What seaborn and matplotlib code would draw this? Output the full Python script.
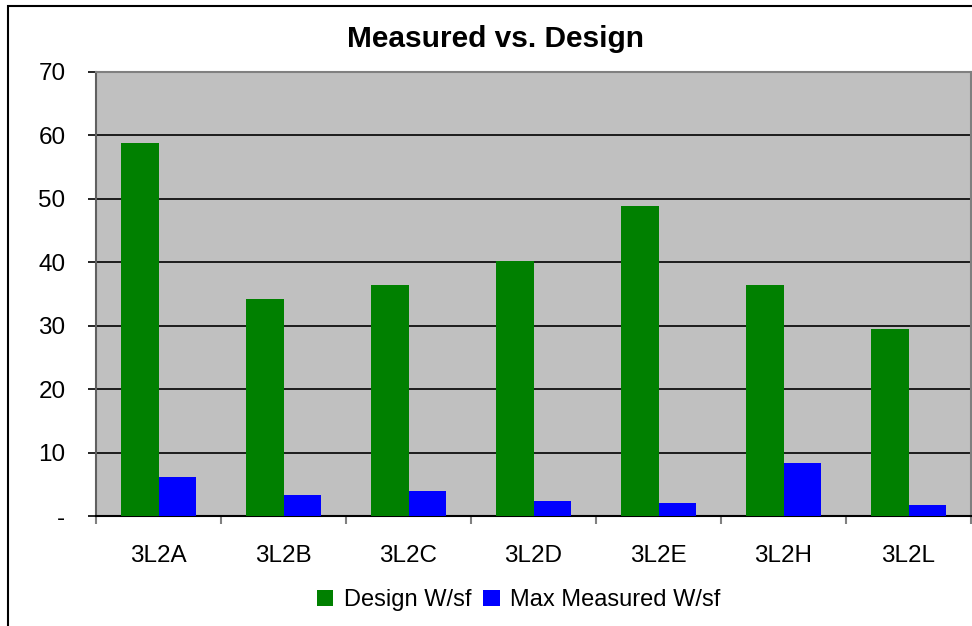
import matplotlib
matplotlib.use("Agg")
import matplotlib.pyplot as plt
import seaborn as sns
import pandas as pd
from matplotlib.patches import Rectangle
from matplotlib.ticker import FixedLocator

categories = ["3L2A", "3L2B", "3L2C", "3L2D", "3L2E", "3L2H", "3L2L"]
design = [58.8, 34.2, 36.4, 40.2, 48.8, 36.4, 29.5]
measured = [6.1, 3.3, 3.9, 2.3, 2.0, 8.3, 1.7]
series_names = ["Design W/sf", "Max Measured W/sf"]
y_ticks = [0, 10, 20, 30, 40, 50, 60, 70]
y_tick_labels = ["-", "10", "20", "30", "40", "50", "60", "70"]

df = pd.DataFrame({
    "Category": categories * 2,
    "Value": design + measured,
    "Series": [series_names[0]] * len(categories) + [series_names[1]] * len(categories),
})

sns.set_style("white")
plt.rcParams["font.family"] = ["Liberation Sans", "DejaVu Sans"]
plt.rcParams["text.color"] = "black"
plt.rcParams["xtick.color"] = "black"
plt.rcParams["ytick.color"] = "black"
plt.rcParams["axes.labelcolor"] = "black"

fig = plt.figure(figsize=(9.72, 6.26), dpi=100)
ax = fig.add_axes([96 / 972, 1 - 516 / 626, (971 - 96) / 972, (516 - 72) / 626])

sns.barplot(data=df, x="Category", y="Value", hue="Series", order=categories,
            hue_order=series_names, palette=["#008000", "#0000FF"],
            width=0.6, saturation=1, ax=ax, legend=True, zorder=3,
            linewidth=0, edgecolor="none")

ax.set_facecolor("#C0C0C0")
ax.set_xlim(-0.5, len(categories) - 0.5)
ax.set_ylim(0, 70)
ax.set_yticks(y_ticks)
ax.set_yticklabels(y_tick_labels, fontsize=17.5)
ax.yaxis.grid(True, color="black", linewidth=1.2, zorder=1)
ax.set_axisbelow(True)
ax.set_xlabel("")
ax.set_ylabel("")
ax.tick_params(axis="x", which="major", length=0, labelsize=17.5, pad=21)
ax.xaxis.set_minor_locator(FixedLocator([i - 0.5 for i in range(len(categories) + 1)]))
ax.tick_params(axis="x", which="minor", length=6, width=1.5, color="#808080", direction="out", bottom=True)
ax.tick_params(axis="y", which="major", length=6, width=1.2, color="black", direction="out", left=True, pad=16)

for side in ["top", "right"]:
    ax.spines[side].set_color("#808080")
    ax.spines[side].set_linewidth(1.5)
ax.spines["left"].set_color("#606060")
ax.spines["left"].set_linewidth(1.5)
ax.spines["bottom"].set_color("black")
ax.spines["bottom"].set_linewidth(1.5)

fig.text(495 / 972, 1 - 39 / 626, "Measured vs. Design", fontsize=21.5, fontweight="bold",
         color="black", ha="center", va="center")

leg = ax.legend(loc="upper center", bbox_to_anchor=(0.483, -0.117), ncol=2, frameon=False,
                fontsize=17, handlelength=0.7, handleheight=0.7, handletextpad=0.45,
                columnspacing=0.5)
for t in leg.get_texts():
    t.set_color("black")

fig.patches.append(Rectangle((8 / 972, -0.1), 2, 1.1 - 6 / 626, transform=fig.transFigure,
                             fill=False, edgecolor="black", linewidth=1.5))

fig.savefig("out.png", dpi=100)
